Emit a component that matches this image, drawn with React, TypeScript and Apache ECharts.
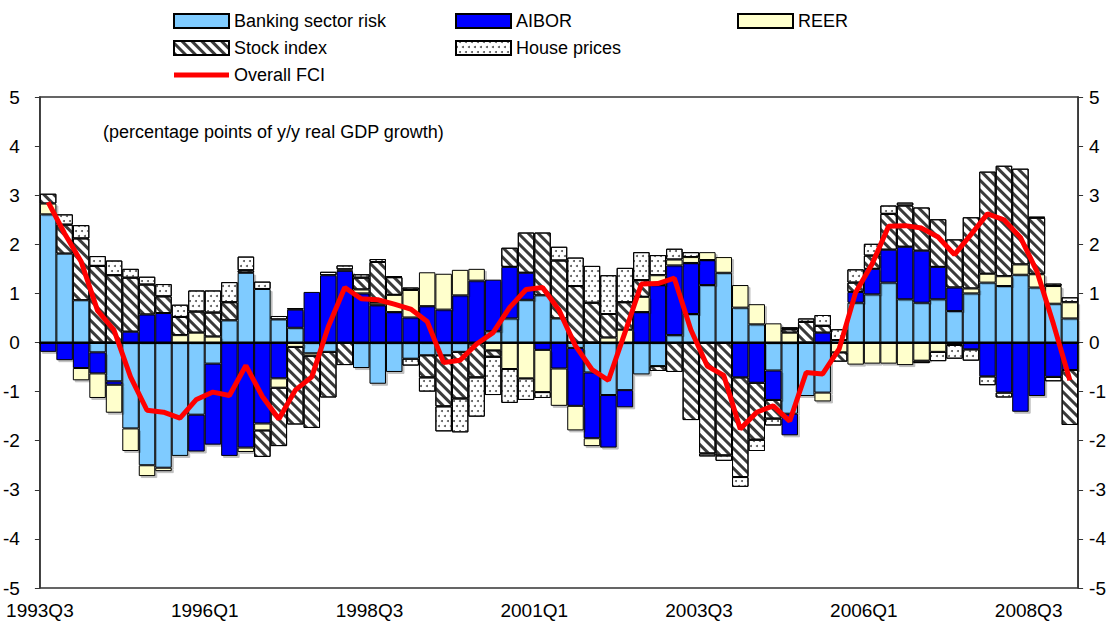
import React, { useEffect, useRef } from 'react';
import * as echarts from 'echarts';

const categories = [
  '1993Q3','1993Q4','1994Q1','1994Q2','1994Q3','1994Q4','1995Q1','1995Q2','1995Q3','1995Q4',
  '1996Q1','1996Q2','1996Q3','1996Q4','1997Q1','1997Q2','1997Q3','1997Q4','1998Q1','1998Q2',
  '1998Q3','1998Q4','1999Q1','1999Q2','1999Q3','1999Q4','2000Q1','2000Q2','2000Q3','2000Q4',
  '2001Q1','2001Q2','2001Q3','2001Q4','2002Q1','2002Q2','2002Q3','2002Q4','2003Q1','2003Q2',
  '2003Q3','2003Q4','2004Q1','2004Q2','2004Q3','2004Q4','2005Q1','2005Q2','2005Q3','2005Q4',
  '2006Q1','2006Q2','2006Q3','2006Q4','2007Q1','2007Q2','2007Q3','2007Q4','2008Q1','2008Q2',
  '2008Q3','2008Q4','2009Q1'
];

const tickLabels = ['1993Q3', '1996Q1', '1998Q3', '2001Q1', '2003Q3', '2006Q1', '2008Q3'];

const banking = [2.61,1.81,0.86,-0.20,-0.79,-1.75,-2.50,-2.55,-2.31,-1.47,-0.43,0.45,1.42,1.09,0.47,0.30,-0.22,-0.19,0,-0.52,-0.84,-0.60,-0.33,-0.26,-0.26,-0.19,0,0.23,0.49,0.87,0.96,0.49,-0.11,-0.61,-1.07,-0.97,-0.65,-0.48,0.15,0.58,1.17,1.42,0.71,0.37,-0.57,-1.45,-1.09,-1.02,0.05,0.81,0.98,1.22,0.88,0.81,0.88,0.64,1.00,1.22,1.15,1.38,1.12,0.79,0.49];
const aibor = [-0.19,-0.36,-0.52,-0.43,-0.07,0.22,0.57,0.60,0,-0.75,-1.65,-2.31,-2.14,-1.65,-0.73,0.37,1.03,1.37,1.46,1.00,0.76,0.62,0.51,0.74,0.67,0.96,1.26,1.05,1.05,0.55,-0.15,-0.53,-1.18,-1.34,-1.07,-0.35,0.62,1.17,1.42,1.04,0.51,0,-0.71,-0.82,-0.60,-0.44,-0.02,0.20,0,0.22,0.52,0.67,1.07,1.06,0.66,0.48,-0.14,-0.69,-1.02,-1.41,-1.09,-0.70,-0.56];
const reer = [0.22,0,-0.25,-0.50,-0.57,-0.46,-0.22,-0.07,0.15,0.20,0.12,0,-0.09,-0.14,-0.19,-0.09,-0.05,0,0.03,0.08,0.05,0.35,0.56,0.69,0.73,0.52,0.24,-0.16,-0.54,-0.73,-0.86,-0.76,-0.50,-0.16,0.10,0.26,0.31,0.20,0.12,0.12,0.16,0.32,0.46,0.41,0.39,0.20,0,-0.18,-0.20,-0.45,-0.43,-0.43,-0.46,-0.37,-0.19,-0.05,0.10,0.18,0.20,0.21,0.27,0.36,0.33];
const stock = [0.20,0.59,1.26,1.56,1.37,1.10,0.61,0.34,0.37,0.43,0.49,0.37,0.05,-0.54,-1.19,-1.58,-1.47,-0.93,-0.46,0.24,0.83,0.36,0.05,-0.45,-1.04,-0.95,-0.71,-0.13,0.39,0.82,1.28,1.18,1.15,0.81,0.48,0.56,0.34,-0.10,-0.60,-1.58,-2.26,-2.30,-2.03,-1.16,-0.38,0.07,0.42,0.14,-0.19,0.19,0.27,0.73,0.84,0.88,0.97,0.98,1.45,2.08,2.25,1.95,1.15,0.05,-1.12];
const house = [0,0.21,0.27,0.20,0.30,0.18,0.16,0.25,0.25,0.43,0.45,0.41,0.28,0.15,0.07,0.03,0,0.07,0.08,0.07,0.06,0.02,-0.14,-0.29,-0.51,-0.69,-0.80,-0.78,-0.69,-0.44,-0.12,0.28,0.58,0.75,0.79,0.70,0.57,0.41,0.22,0.10,-0.06,-0.11,-0.20,-0.23,-0.14,0.04,0.07,0.22,0.22,0.27,0.24,0.17,0.06,-0.05,-0.19,-0.28,-0.23,-0.18,-0.10,0,0.02,-0.09,0.10];
const fci = [2.86,2.22,1.65,0.65,0.25,-0.70,-1.38,-1.42,-1.54,-1.16,-1.01,-1.08,-0.47,-1.10,-1.56,-0.97,-0.70,0.32,1.12,0.89,0.87,0.78,0.68,0.43,-0.41,-0.36,-0.03,0.20,0.71,1.08,1.12,0.66,-0.07,-0.55,-0.77,0.20,1.19,1.20,1.31,0.26,-0.48,-0.67,-1.76,-1.42,-1.29,-1.60,-0.61,-0.64,-0.13,1.02,1.60,2.37,2.38,2.33,2.15,1.79,2.20,2.62,2.50,2.14,1.45,0.38,-0.77];

const FONT = '"Liberation Sans", Arial, sans-serif';
const LINE_ICON = 'path://M0,0h55v0.01h-55z M0,4.5h55v5h-55z M0,13.99h55v0.01h-55z';

function barSeries(name: string, data: number[], itemStyle: any) {
  return {
    type: 'bar',
    name,
    stack: 'fci',
    barCategoryGap: '0%',
    xAxisIndex: 0,
    yAxisIndex: 0,
    data: data.map((v) => (v === 0 ? null : v)),
    itemStyle: { borderColor: '#000', borderWidth: 1, ...itemStyle },
    emphasis: { disabled: true },
  };
}

const softShadow = { shadowColor: 'rgba(0,0,0,0.25)', shadowBlur: 1, shadowOffsetX: 2, shadowOffsetY: 2 };

export default function App() {
  const ref = useRef<HTMLDivElement>(null);
  useEffect(() => {
    const chart = echarts.init(ref.current!, null, { renderer: 'svg' });
    const axisText = { fontFamily: FONT, fontSize: 19, color: '#000' };
    const legendText = { fontFamily: FONT, fontSize: 18, color: '#000' };
    const legendBase = { top: 12, padding: 0, orient: 'vertical', icon: 'rect', itemWidth: 55, itemHeight: 14, itemGap: 9, textStyle: legendText, selectedMode: false };
    const option: any = {
      animation: false,
      backgroundColor: '#fff',
      grid: { left: 38, right: 30, top: 97, bottom: 33, show: true, borderColor: '#333', borderWidth: 1.5, backgroundColor: 'transparent' },
      legend: [
        { ...legendBase, left: 173,
          data: ['Banking sector risk', 'Stock index', { name: 'Overall FCI', icon: LINE_ICON, itemStyle: { borderWidth: 0, color: '#FF0000' } }] },
        { ...legendBase, left: 455, data: ['AIBOR', 'House prices'] },
        { ...legendBase, left: 737, data: ['REER'] },
      ],
      xAxis: [
        { type: 'category', data: categories, boundaryGap: true, z: 5,
          axisLine: { show: true, onZero: true, lineStyle: { color: '#000', width: 2 } },
          axisTick: { show: false }, axisLabel: { show: false }, splitLine: { show: false } },
        { type: 'value', min: 0, max: categories.length, interval: 10, position: 'bottom',
          axisLine: { show: false, onZero: false }, axisTick: { show: false }, splitLine: { show: false },
          axisLabel: { ...axisText, margin: 13, showMaxLabel: false,
            formatter: (v: number) => (v % 10 === 0 && tickLabels[v / 10] ? tickLabels[v / 10] : '') } },
      ],
      yAxis: [
        { type: 'value', min: -5, max: 5, interval: 1, position: 'left',
          axisLine: { show: true, lineStyle: { color: '#333', width: 1.5 } },
          axisTick: { show: true, inside: false, length: 5, lineStyle: { color: '#333' } },
          splitLine: { show: false }, axisLabel: { ...axisText, margin: 20 } },
        { type: 'value', min: -5, max: 5, interval: 1, position: 'right',
          axisLine: { show: true, lineStyle: { color: '#333', width: 1.5 } },
          axisTick: { show: true, inside: false, length: 5, lineStyle: { color: '#333' } },
          splitLine: { show: false }, axisLabel: { ...axisText, margin: 11 } },
      ],
      graphic: [
        { type: 'text', left: 103, top: 123, style: { text: '(percentage points of y/y real GDP growth)', font: '18px ' + FONT, fill: '#000' } },
      ],
      series: [
        barSeries('Banking sector risk', banking, { color: '#7FCBFF', ...softShadow }),
        barSeries('AIBOR', aibor, { color: '#0000FF', ...softShadow }),
        barSeries('REER', reer, { color: '#FFFFCC', ...softShadow }),
        barSeries('Stock index', stock, {
          color: '#fff',
          decal: { symbol: 'rect', symbolSize: 1, dashArrayX: [1, 0], dashArrayY: [3, 4], rotation: Math.PI / 4, color: '#3a3a3a' },
        }),
        barSeries('House prices', house, {
          color: '#fff',
          decal: { symbol: 'circle', symbolSize: 1, dashArrayX: [[2, 4], [0, 3, 2, 1]], dashArrayY: [2, 3], color: '#555' },
        }),
        { type: 'line', name: 'Overall FCI', data: fci, xAxisIndex: 0, yAxisIndex: 0, symbol: 'none', z: 10,
          lineStyle: { color: '#FF0000', width: 5 }, itemStyle: { color: '#FF0000' }, emphasis: { disabled: true } },
      ],
    };
    chart.setOption(option);
    return () => chart.dispose();
  }, []);
  return <div ref={ref} style={{ position: 'fixed', left: 0, top: 0, width: 1109, height: 621, background: '#fff' }} />;
}
